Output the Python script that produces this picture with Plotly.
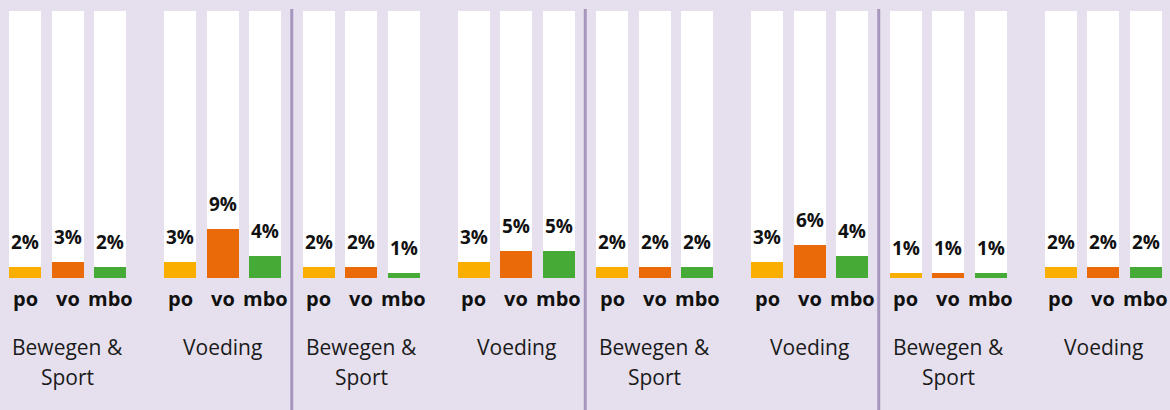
import plotly.graph_objects as go

# Share per school type (%), four panels, each with two themes
levels = ["po", "vo", "mbo"]
themes = [["Bewegen &", "Sport"], ["Voeding"]]
panel_bewegen = [[2, 3, 2], [2, 2, 1], [2, 2, 2], [1, 1, 1]]
panel_voeding = [[3, 9, 4], [3, 5, 5], [3, 6, 4], [2, 2, 2]]
level_colors = ["#f9ae00", "#ea6a0a", "#46ab36"]

# layout constants (pixel-like x units)
W, H = 1170, 410
TOP, BOTTOM = 11, 278
Y_MAX = 49
PANEL_START, PANEL_STEP = 9, 293.5
BAR_OFFSETS = [0, 42.5, 85, 155, 197.5, 240]
BAR_W = 32
BG = "#e6e0ee"
FONT = "Open Sans"

fig = go.Figure()

xs = {lv: [] for lv in levels}
ys = {lv: [] for lv in levels}
all_x = []
for p in range(4):
    groups = [panel_bewegen[p], panel_voeding[p]]
    for g, vals in enumerate(groups):
        for i, lv in enumerate(levels):
            x = PANEL_START + p * PANEL_STEP + BAR_OFFSETS[g * 3 + i] + BAR_W / 2
            xs[lv].append(x)
            ys[lv].append(vals[i])
            all_x.append(x)

# white background columns filling the scale
fig.add_trace(go.Bar(x=all_x, y=[Y_MAX] * len(all_x), width=BAR_W,
                     marker=dict(color="white", line=dict(width=0)),
                     hoverinfo="skip", showlegend=False))
for lv, col in zip(levels, level_colors):
    fig.add_trace(go.Bar(x=xs[lv], y=ys[lv], width=BAR_W, name=lv,
                         marker=dict(color=col, line=dict(width=0)),
                         showlegend=False))

annotations = []
for lv in levels:
    for x, v in zip(xs[lv], ys[lv]):
        annotations.append(dict(x=x, y=v, xref="x", yref="y", text=f"<b>{v}%</b>",
                                showarrow=False, yanchor="bottom", yshift=10,
                                font=dict(family=FONT, size=19, color="#111111")))
        annotations.append(dict(x=x, y=0, xref="x", yref="paper", text=f"<b>{lv}</b>",
                                showarrow=False, yanchor="middle", yshift=-20,
                                font=dict(family=FONT, size=20, color="#111111")))

# theme labels under the middle bar of each group, 30px line spacing
for p in range(4):
    for g, lines in enumerate(themes):
        x = PANEL_START + p * PANEL_STEP + BAR_OFFSETS[g * 3 + 1] + BAR_W / 2
        for k, line in enumerate(lines):
            annotations.append(dict(x=x, y=0, xref="x", yref="paper", text=line,
                                    showarrow=False, yanchor="middle", yshift=-69 - 30 * k,
                                    font=dict(family=FONT, size=21, color="#1a1a1a")))

plot_h = BOTTOM - TOP
shapes = []
for p in range(3):
    end = PANEL_START + p * PANEL_STEP + BAR_OFFSETS[-1] + BAR_W
    nxt = PANEL_START + (p + 1) * PANEL_STEP
    xd = (end + nxt) / 2
    shapes.append(dict(type="line", xref="x", yref="paper", x0=xd, x1=xd,
                       y0=(BOTTOM - 9) / plot_h, y1=(BOTTOM - H) / plot_h,
                       line=dict(color="#a596be", width=3)))

fig.update_layout(
    width=W, height=H, barmode="overlay", bargap=0,
    paper_bgcolor=BG, plot_bgcolor=BG,
    margin=dict(l=0, r=0, t=TOP, b=H - BOTTOM, pad=0),
    xaxis=dict(range=[0, W], visible=False, fixedrange=True),
    yaxis=dict(range=[0, Y_MAX], visible=False, fixedrange=True),
    annotations=annotations, shapes=shapes,
)

fig.write_html("out.html", config={"displayModeBar": False})
